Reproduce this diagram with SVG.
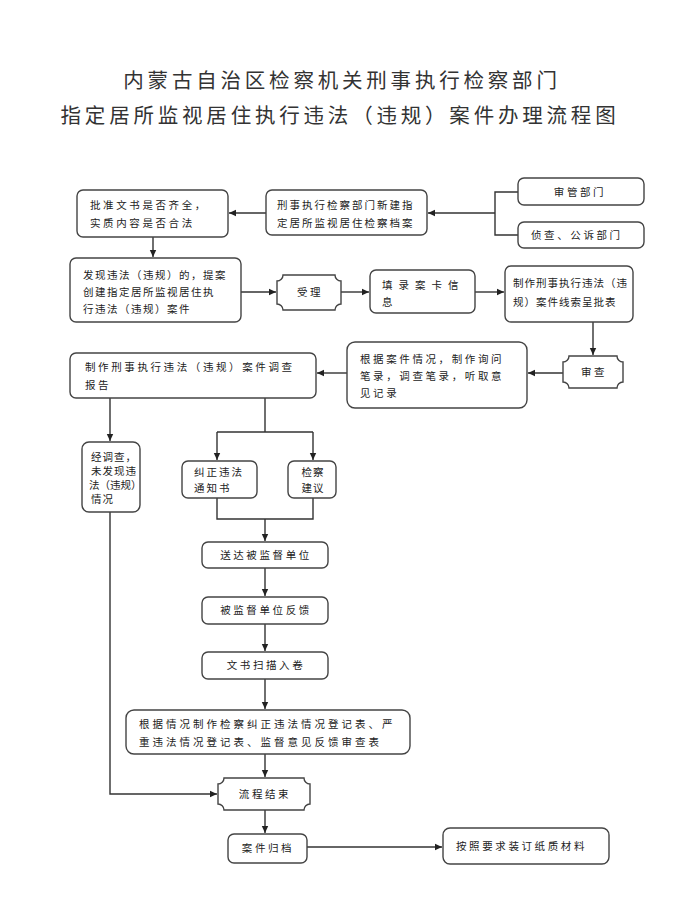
<svg xmlns="http://www.w3.org/2000/svg" width="700" height="900" viewBox="0 0 700 900">
<defs>
<marker id="arr" markerWidth="8" markerHeight="8" refX="7" refY="4" orient="auto" markerUnits="userSpaceOnUse">
<path d="M0,0.8 L7,4 L0,7.2 Z" fill="#222"/>
</marker>
<style>
.box{fill:#fff;stroke:#444;stroke-width:1.4}
.t{font-family:"Noto Sans CJK SC","Noto Sans",sans-serif;font-size:10.5px;fill:#222;letter-spacing:2.6px}
.c{text-anchor:middle}
.title{font-family:"Noto Sans CJK SC","Noto Sans",sans-serif;font-size:20.5px;fill:#333;letter-spacing:3.8px;text-anchor:middle}
.ln{fill:none;stroke:#333;stroke-width:1.4}
.ar{marker-end:url(#arr)}
</style>
</defs>
<rect width="700" height="900" fill="#fff"/>
<g id="title">
<text class="title" x="342" y="88">内蒙古自治区检察机关刑事执行检察部门</text>
<text class="title" x="340" y="123">指定居所监视居住执行违法（违规）案件办理流程图</text>
</g>
<g id="connectors">
<path class="ln" d="M518,192 H495 V235 H518"/>
<path class="ln ar" d="M495,213 H428"/>
<path class="ln ar" d="M266,213 H229"/>
<path class="ln ar" d="M153,237 V257"/>
<path class="ln ar" d="M241,292 H276"/>
<path class="ln ar" d="M341,292 H369"/>
<path class="ln ar" d="M475,292 H504"/>
<path class="ln ar" d="M593,322 V355"/>
<path class="ln ar" d="M563,373 H528"/>
<path class="ln ar" d="M347,373 H317"/>
<path class="ln ar" d="M110,398 V441"/>
<path class="ln" d="M265,398 V432 M217,432 H313"/>
<path class="ln ar" d="M217,432 V460"/>
<path class="ln ar" d="M313,432 V460"/>
<path class="ln" d="M217,498 V519 H313 V498"/>
<path class="ln ar" d="M265,519 V541"/>
<path class="ln ar" d="M265,568 V596"/>
<path class="ln ar" d="M265,624 V651"/>
<path class="ln ar" d="M265,679 V709"/>
<path class="ln ar" d="M265,754 V777"/>
<path class="ln ar" d="M110,512 V794 H217"/>
<path class="ln ar" d="M265,810 V833"/>
<path class="ln ar" d="M307,847 H442"/>
</g>
<g id="n1"><rect class="box" x="518" y="178" width="126" height="27" rx="6"/><text class="t c" x="580" y="196">审管部门</text></g>
<g id="n2"><rect class="box" x="518" y="222" width="126" height="26" rx="6"/><text class="t" x="531" y="239">侦查、公诉部门</text></g>
<g id="n3"><rect class="box" x="266" y="190" width="161" height="45" rx="6"/><text class="t" x="277" y="209" style="letter-spacing:2px">刑事执行检察部门新建指</text><text class="t" x="277" y="227" style="letter-spacing:2px">定居所监视居住检察档案</text></g>
<g id="n4"><rect class="box" x="77" y="190" width="151" height="47" rx="6"/><text class="t" x="90" y="209">批准文书是否齐全，</text><text class="t" x="90" y="227">实质内容是否合法</text></g>
<g id="n5"><rect class="box" x="70" y="258" width="171" height="64" rx="6"/><text class="t" x="83" y="279" style="letter-spacing:1.5px">发现违法（违规）的，提案</text><text class="t" x="83" y="296" style="letter-spacing:1.5px">创建指定居所监视居住执</text><text class="t" x="83" y="313" style="letter-spacing:1.5px">行违法（违规）案件</text></g>
<g id="n6"><path class="box" d="M283,275 H335 A6,6 0 0 0 341,281 V304 A6,6 0 0 0 335,310 H283 A6,6 0 0 0 277,304 V281 A6,6 0 0 0 283,275 Z"/><text class="t c" x="310" y="296">受理</text></g>
<g id="n7"><rect class="box" x="370" y="270" width="105" height="43" rx="6"/><text class="t" x="382" y="289" style="letter-spacing:6px">填录案卡信</text><text class="t" x="382" y="306">息</text></g>
<g id="n8"><rect class="box" x="505" y="266" width="128" height="56" rx="6"/><text class="t" x="513" y="287" style="letter-spacing:1px">制作刑事执行违法（违</text><text class="t" x="513" y="306" style="letter-spacing:1px">规）案件线索呈批表</text></g>
<g id="n9"><path class="box" d="M569,356 H617 A6,6 0 0 0 623,362 V382 A6,6 0 0 0 617,388 H569 A6,6 0 0 0 563,382 V362 A6,6 0 0 0 569,356 Z"/><text class="t c" x="594" y="376">审查</text></g>
<g id="n10"><rect class="box" x="347" y="342" width="180" height="66" rx="8"/><text class="t" x="360" y="363">根据案件情况，制作询问</text><text class="t" x="360" y="380">笔录，调查笔录，听取意</text><text class="t" x="360" y="397">见记录</text></g>
<g id="n11"><rect class="box" x="70" y="353" width="246" height="45" rx="6"/><text class="t" x="85" y="371">制作刑事执行违法（违规）案件调查</text><text class="t" x="85" y="389">报告</text></g>
<g id="n12"><rect class="box" x="82" y="442" width="58" height="70" rx="7"/><text class="t" x="91" y="461" style="letter-spacing:1px">经调查，</text><text class="t" x="91" y="475" style="letter-spacing:1px">未发现违</text><text class="t" x="89" y="489" style="letter-spacing:0">法（违规）</text><text class="t" x="91" y="503" style="letter-spacing:1px">情况</text></g>
<g id="n13"><rect class="box" x="182" y="461" width="75" height="37" rx="6"/><text class="t" x="194" y="476" style="letter-spacing:2px">纠正违法</text><text class="t" x="194" y="492" style="letter-spacing:2px">通知书</text></g>
<g id="n14"><rect class="box" x="288" y="461" width="48" height="37" rx="6"/><text class="t c" x="313" y="476" style="letter-spacing:1px">检察</text><text class="t c" x="313" y="492" style="letter-spacing:1px">建议</text></g>
<g id="n15"><rect class="box" x="202" y="542" width="126" height="26" rx="6"/><text class="t c" x="266" y="559">送达被监督单位</text></g>
<g id="n16"><rect class="box" x="202" y="597" width="126" height="27" rx="6"/><text class="t c" x="266" y="614">被监督单位反馈</text></g>
<g id="n17"><rect class="box" x="202" y="652" width="126" height="27" rx="6"/><text class="t c" x="266" y="669">文书扫描入卷</text></g>
<g id="n18"><rect class="box" x="126" y="710" width="284" height="44" rx="8"/><text class="t" x="139" y="728" style="letter-spacing:3px">根据情况制作检察纠正违法情况登记表、严</text><text class="t" x="139" y="746" style="letter-spacing:3px">重违法情况登记表、监督意见反馈审查表</text></g>
<g id="n19"><path class="box" d="M224,778 H304 A6,6 0 0 0 310,784 V804 A6,6 0 0 0 304,810 H224 A6,6 0 0 0 218,804 V784 A6,6 0 0 0 224,778 Z"/><text class="t c" x="265" y="798">流程结束</text></g>
<g id="n20"><rect class="box" x="228" y="834" width="79" height="29" rx="6"/><text class="t c" x="268" y="852">案件归档</text></g>
<g id="n21"><rect class="box" x="443" y="828" width="166" height="36" rx="7"/><text class="t" x="456" y="850">按照要求装订纸质材料</text></g>
</svg>
